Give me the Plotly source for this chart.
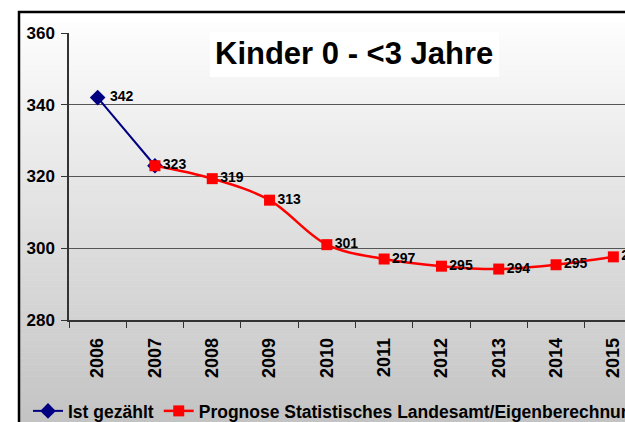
import plotly.graph_objects as go

years = ["2006", "2007", "2008", "2009", "2010", "2011", "2012", "2013", "2014", "2015"]
ist_years = ["2006", "2007"]
ist_values = [342, 323]
prog_years = ["2007", "2008", "2009", "2010", "2011", "2012", "2013", "2014", "2015"]
prog_values = [323, 319.4, 313.4, 301, 297, 295, 294.2, 295.4, 297.6]
title_text = "Kinder 0 - <3 Jahre"
ist_name = "Ist gezählt"
prog_name = "Prognose Statistisches Landesamt/Eigenberechnung"

W, H = 660, 450
L, T = 69, 33
PW, PH = 573, 287
R = W - L - PW
B = H - T - PH

def xp(px):
    return (px - L) / PW

def yp(py):
    return (T + PH - py) / PH

FONT = "Liberation Sans, Arial, sans-serif"

fig = go.Figure()

# the 2007 value is shared with the forecast series, whose label is shown there
ist_text = [f" {v:.0f}" for v in ist_values]
ist_text[-1] = ""

fig.add_trace(go.Scatter(
    x=ist_years, y=ist_values, name=ist_name, mode="lines+markers+text",
    line=dict(color="#000080", width=2),
    marker=dict(symbol="diamond", size=12, color="#000080"),
    text=ist_text, textposition="middle right",
    textfont=dict(family=FONT, size=14, color="black", weight="bold"),
    cliponaxis=True,
))
fig.add_trace(go.Scatter(
    x=prog_years, y=prog_values, name=prog_name, mode="lines+markers+text",
    line=dict(color="#ff0000", width=2.5, shape="spline", smoothing=1.0),
    marker=dict(symbol="square", size=11, color="#ff0000"),
    text=[f"{v:.0f}" for v in prog_values], textposition="middle right",
    textfont=dict(family=FONT, size=14, color="black", weight="bold"),
    cliponaxis=True,
))

shapes = []
# gradient background (inside outer frame)
top_px, bot_px = 11, 430
n = 70
for i in range(n):
    y0 = top_px + (bot_px - top_px) * i / n
    y1 = top_px + (bot_px - top_px) * (i + 1) / n + 0.5
    f = (i + 0.5) / n
    c = round(255 - (255 - 194) * f)
    shapes.append(dict(type="rect", xref="paper", yref="paper",
                       x0=xp(19), x1=xp(W + 20), y0=yp(y1), y1=yp(y0),
                       fillcolor=f"rgb({c},{c},{c})", line=dict(width=0), layer="below"))
# outer frame
shapes.append(dict(type="rect", xref="paper", yref="paper",
                   x0=xp(19), x1=xp(W + 20), y0=yp(H + 20), y1=yp(12),
                   line=dict(color="black", width=2.5), fillcolor="rgba(0,0,0,0)", layer="above"))
# title box
shapes.append(dict(type="rect", xref="paper", yref="paper",
                   x0=xp(210), x1=xp(499), y0=yp(77), y1=yp(32),
                   fillcolor="white", line=dict(width=0), layer="above"))

fig.update_layout(
    width=W, height=H,
    margin=dict(l=L, r=R, t=T, b=B, pad=0, autoexpand=False),
    paper_bgcolor="white", plot_bgcolor="rgba(0,0,0,0)",
    shapes=shapes,
    showlegend=True,
    legend=dict(orientation="h", x=xp(28), y=yp(411), xanchor="left", yanchor="middle",
                font=dict(family=FONT, size=17.5, color="black", weight="bold"),
                bgcolor="rgba(0,0,0,0)", itemwidth=30, tracegroupgap=0),
    annotations=[dict(text=title_text, xref="paper", yref="paper",
                      x=xp(354), y=yp(54), xanchor="center", yanchor="middle",
                      showarrow=False,
                      font=dict(family=FONT, size=31, color="black", weight="bold"))],
)

fig.update_xaxes(
    type="category", categoryorder="array", categoryarray=years,
    range=[-0.5, 9.5], tickson="boundaries", ticks="outside", ticklen=6,
    tickcolor="#333", tickwidth=1.2, showline=True, linecolor="#333", linewidth=1.5,
    showgrid=False, tickangle=-90, mirror=False, automargin=False,
    ticklabelstandoff=9,
    tickfont=dict(family=FONT, size=18, color="black", weight="bold"),
)
fig.update_yaxes(
    range=[280, 360], dtick=20, ticks="outside", ticklen=6, tickcolor="#333", tickwidth=1.2,
    showline=True, linecolor="#333", linewidth=1.5, automargin=False,
    ticklabelstandoff=3,
    showgrid=True, gridcolor="#555", gridwidth=1.2, zeroline=False,
    tickfont=dict(family=FONT, size=17, color="black", weight="bold"),
)

post = ("document.body.style.margin='0';"
        "document.body.style.overflow='hidden';"
        "document.documentElement.style.overflow='hidden';")
fig.write_html("out.html", post_script=post, config={"displayModeBar": False})
